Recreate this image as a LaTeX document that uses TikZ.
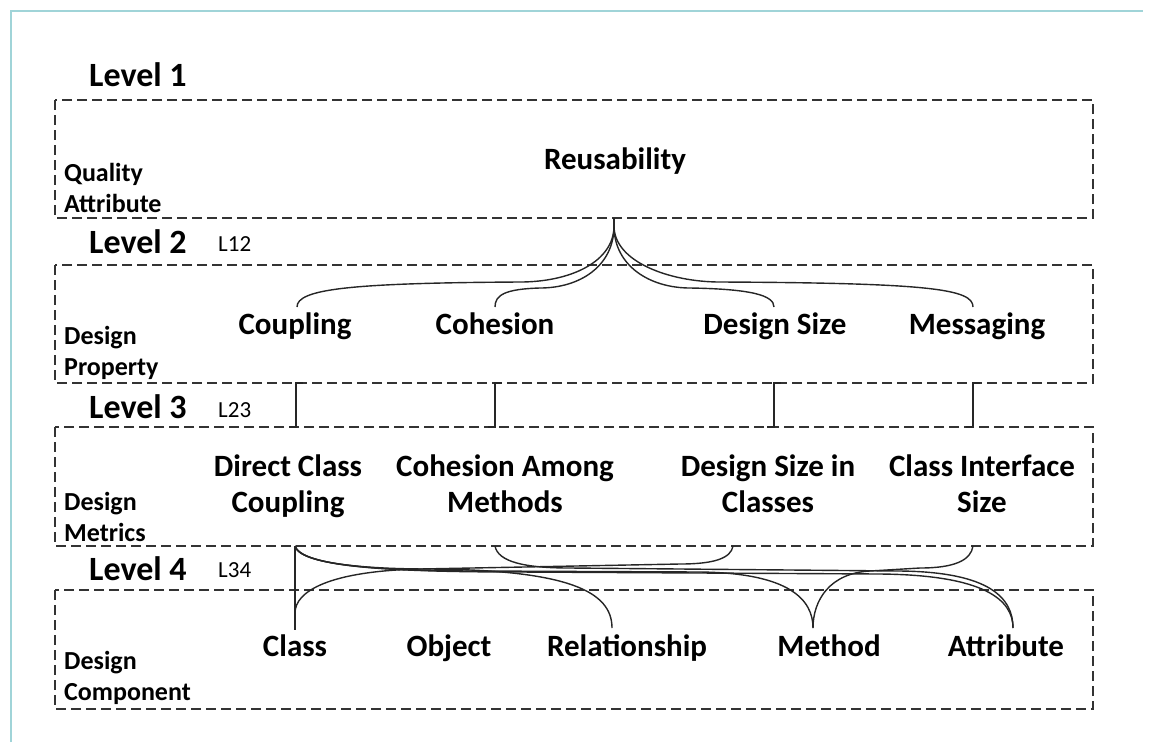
\documentclass[tikz,border=0pt]{standalone}
\usepackage{fontspec}
\setmainfont{Carlito}
\definecolor{framecol}{RGB}{160,212,216}
\newcommand\rowstrut{\vphantom{Lgy}}
\begin{document}
\begin{tikzpicture}[x=1pt,y=-1pt,
  dashbox/.style={draw=black!80, line width=1.8pt, dash pattern=on 10pt off 5pt},
  conn/.style={draw=black!85, line width=1.4pt},
  lvl/.style={font=\fontsize{34}{38}\selectfont\bfseries, anchor=west, inner sep=0pt},
  lnk/.style={font=\fontsize{23}{26}\selectfont, anchor=west, inner sep=0pt},
  side/.style={font=\fontsize{26}{31}\selectfont\bfseries, anchor=west, align=left, inner sep=0pt},
  item/.style={font=\fontsize{31}{36}\selectfont\bfseries, align=center, inner sep=0pt},
]
\useasboundingbox (0,0) rectangle (1150,742);
% outer frame
\draw[framecol, line width=1.5pt] (11,742) -- (11,11) -- (1143,11);

% level bands
\draw[dashbox] (55,100) rectangle (1093,218);
\draw[dashbox] (55,265) rectangle (1093,383);
\draw[dashbox] (55,427) rectangle (1093,546);
\draw[dashbox] (55,590) rectangle (1093,709);

% level captions
\node[lvl] (lv1) at (89,75) {Level 1};
\node[lvl] (lv2) at (89,242) {Level 2};
\node[lnk] (l12) at (218,244) {L12};
\node[lvl] (lv3) at (89,407) {Level 3};
\node[lnk] (l23) at (218,410) {L23};
\node[lvl] (lv4) at (89,569) {Level 4};
\node[lnk] (l34) at (218,570) {L34};

% band names
\node[side] (qa) at (64,188) {Quality\\Attribute};
\node[side] (dp) at (64,353) {Design\\Property};
\node[side] (dm) at (64,517) {Design\\Metrics};
\node[side] (dc) at (64,678) {Design\\Component};

% level 1
\node[item] (reu) at (615,161) {Reusability\rowstrut};
% level 2
\node[item] (cpl) at (295,326) {Coupling\rowstrut};
\node[item] (coh) at (495,326) {Cohesion\rowstrut};
\node[item] (dsz) at (775,326) {Design Size\rowstrut};
\node[item] (msg) at (977,326) {Messaging\rowstrut};
% level 3
\node[item] (dcc) at (288,486) {Direct Class\rowstrut\\Coupling\rowstrut};
\node[item] (cam) at (505,486) {Cohesion Among\rowstrut\\Methods\rowstrut};
\node[item] (dsc) at (768,486) {Design Size in\rowstrut\\Classes\rowstrut};
\node[item] (cis) at (982,486) {Class Interface\rowstrut\\Size\rowstrut};
% level 4
\node[item] (cls) at (295,648) {Class\rowstrut};
\node[item] (obj) at (449,648) {Object\rowstrut};
\node[item] (rel) at (627,648) {Relationship\rowstrut};
\node[item] (mth) at (829,648) {Method\rowstrut};
\node[item] (att) at (1006,648) {Attribute\rowstrut};

% connector ports
\coordinate (reu-b) at (614,218);
\coordinate (cpl-t) at (297,307);
\coordinate (coh-t) at (495,307);
\coordinate (dsz-t) at (774,307);
\coordinate (msg-t) at (973,307);
\coordinate (cpl-b) at (296,383);
\coordinate (coh-b) at (495,383);
\coordinate (dsz-b) at (774,383);
\coordinate (msg-b) at (973,383);
\coordinate (dcc-t) at (296,427);
\coordinate (cam-t) at (495,427);
\coordinate (dsc-t) at (774,427);
\coordinate (cis-t) at (973,427);
\coordinate (dcc-b) at (295,546);
\coordinate (cam-b) at (495,546);
\coordinate (dsc-b) at (733,546);
\coordinate (cis-b) at (973,546);
\coordinate (cls-t) at (295,630);
\coordinate (cls-j) at (295,613);
\coordinate (rel-t) at (612,628);
\coordinate (mth-t) at (813,628);
\coordinate (att-t) at (1013,628);

% L12: quality attribute to design properties
\draw[conn] (reu-b) -- ++(0,8) .. controls +(0,36) and +(50,0) .. (520,282) .. controls +(-170,1) and +(0,-18) .. (cpl-t);
\draw[conn] (reu-b) -- ++(0,8) .. controls +(0,40) and +(40,0) .. (540,288) .. controls +(-35,1) and +(0,-12) .. (coh-t);
\draw[conn] (reu-b) -- ++(0,8) .. controls +(0,40) and +(-40,0) .. (690,288) .. controls +(60,1) and +(0,-12) .. (dsz-t);
\draw[conn] (reu-b) -- ++(0,8) .. controls +(0,36) and +(-50,0) .. (720,282) .. controls +(210,1) and +(0,-18) .. (msg-t);

% L23: design properties to design metrics
\foreach \a/\b in {cpl/dcc, coh/cam, dsz/dsc, msg/cis}
  \draw[conn] ([xshift=-7pt]\b-t) -- (\b-t) -- (\a-b) -- ([xshift=7pt]\a-b);

% L34: design metrics to design components
\draw[conn] (dcc-b) -- (cls-t);
\draw[conn] (dcc-b) .. controls +(3,15) and +(-80,0) .. (430,569) .. controls +(140,1) and +(0,-36) .. (rel-t);
\draw[conn] (dcc-b) .. controls +(5,18) and +(-110,0) .. (480,571) -- (700,572) .. controls +(90,1) and +(0,-28) .. (mth-t);
\draw[conn] (dcc-b) .. controls +(7,20) and +(-140,0) .. (520,572) -- (880,574) .. controls +(105,1) and +(0,-28) .. (att-t);
\draw[conn] (cam-b) .. controls +(3,16) and +(-45,0) .. (570,568) -- (900,571) .. controls +(90,1) and +(0,-30) .. (att-t);
\draw[conn] (dsc-b) .. controls +(-2,12) and +(35,0) .. (680,564) -- (420,569) .. controls +(-90,2) and +(0,-22) .. (cls-j);
\draw[conn] (cis-b) .. controls +(-2,14) and +(35,0) .. (920,568) -- (870,571) .. controls +(-40,2) and +(0,-28) .. (mth-t);
\end{tikzpicture}
\end{document}
